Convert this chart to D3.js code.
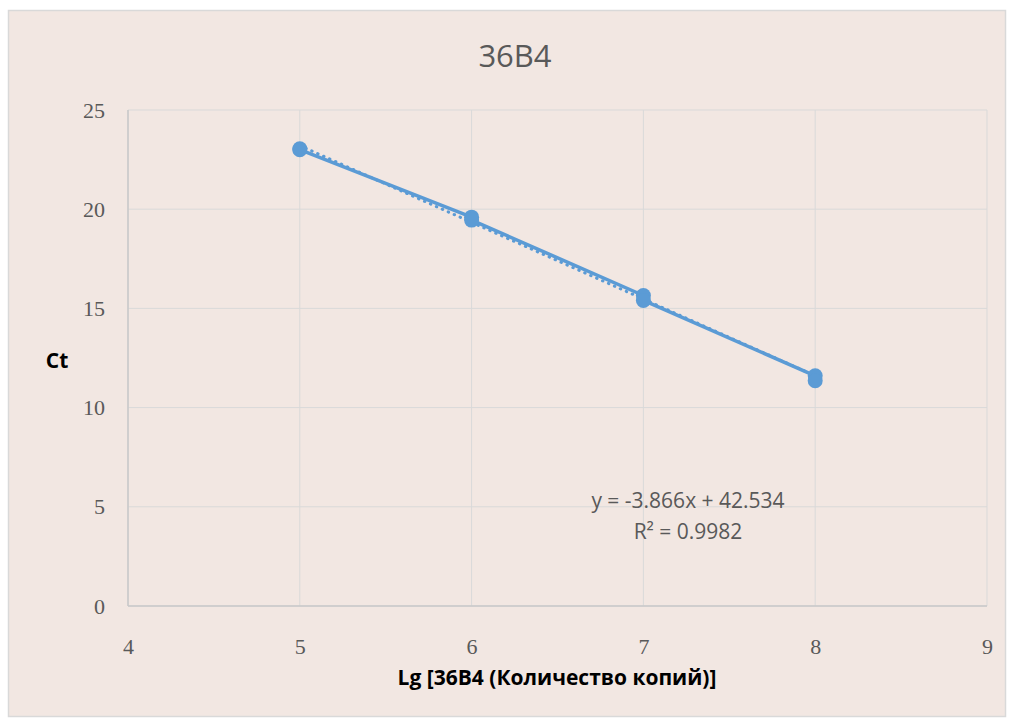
<!DOCTYPE html>
<html>
<head>
<meta charset="utf-8">
<script src="https://cdn.jsdelivr.net/npm/d3@7"></script>
<style>
  body { margin: 0; background: #ffffff; }
  svg { display: block; }
</style>
</head>
<body>
<div id="chart"></div>
<script>
const w = 1011;
const h = 718;

// data
const lgCopies = [5, 5, 6, 6, 7, 7, 8, 8];
const ctValues = [23.05, 23.0, 19.6, 19.45, 15.65, 15.4, 11.6, 11.35];
const xTicks = [4, 5, 6, 7, 8, 9];
const yTicks = [0, 5, 10, 15, 20, 25];
const trendSlope = -3.866;
const trendIntercept = 42.534;
const rSquared = 0.9982;

const chartTitle = "36B4";
const xTitle = "Lg [36B4 (Количество копий)]";
const yTitle = "Ct";

const margin = { left: 128, top: 110, right: 1011 - 987, bottom: 718 - 606 };
const blue = "#5b9bd5";

const svg = d3.select("#chart")
    .append("svg")
    .attr("width", w)
    .attr("height", h);

// chart frame
svg.append("rect")
    .attr("x", 8.5)
    .attr("y", 10.5)
    .attr("width", 997)
    .attr("height", 706)
    .attr("fill", "#f2e7e2")
    .attr("stroke", "#d9d9d9")
    .attr("stroke-width", 1.5);

const x = d3.scaleLinear().domain([4, 9]).range([margin.left, w - margin.right]);
const y = d3.scaleLinear().domain([0, 25]).range([h - margin.bottom, margin.top]);

// grid
svg.append("g")
    .selectAll("line.vg")
    .data(xTicks)
    .enter()
    .append("line")
    .attr("x1", d => x(d)).attr("x2", d => x(d))
    .attr("y1", y(0)).attr("y2", y(25))
    .attr("stroke", "#d9d9d9")
    .attr("stroke-width", 1);

svg.append("g")
    .selectAll("line.hg")
    .data(yTicks)
    .enter()
    .append("line")
    .attr("x1", x(4)).attr("x2", x(9))
    .attr("y1", d => y(d)).attr("y2", d => y(d))
    .attr("stroke", "#d9d9d9")
    .attr("stroke-width", 1);

// axis lines
svg.append("line")
    .attr("x1", x(4)).attr("x2", x(9))
    .attr("y1", y(0)).attr("y2", y(0))
    .attr("stroke", "#c8c8c8").attr("stroke-width", 1.5);
svg.append("line")
    .attr("x1", x(4)).attr("x2", x(4))
    .attr("y1", y(0)).attr("y2", y(25))
    .attr("stroke", "#c8c8c8").attr("stroke-width", 1.5);

// axes labels via d3 axis
const xAxis = svg.append("g")
    .attr("transform", `translate(0,${y(0)})`)
    .call(d3.axisBottom(x).tickValues(xTicks).tickSize(0).tickPadding(32).tickFormat(d3.format("d")));
const yAxis = svg.append("g")
    .attr("transform", `translate(${x(4)},0)`)
    .call(d3.axisLeft(y).tickValues(yTicks).tickSize(0).tickPadding(23).tickFormat(d3.format("d")));

[xAxis, yAxis].forEach(g => {
    g.select(".domain").remove();
    g.selectAll("text")
        .attr("font-family", "'Liberation Serif', serif")
        .attr("font-size", "22px")
        .attr("fill", "#595959");
});

// title
svg.append("text")
    .attr("x", 515)
    .attr("y", 67)
    .attr("text-anchor", "middle")
    .attr("font-family", "'Open Sans', sans-serif")
    .attr("font-size", "31px")
    .attr("fill", "#595959")
    .text(chartTitle);

// axis titles
svg.append("text")
    .attr("x", 557)
    .attr("y", 685)
    .attr("text-anchor", "middle")
    .attr("font-family", "'Open Sans', sans-serif")
    .attr("font-weight", "bold")
    .attr("font-size", "21px")
    .attr("fill", "#000")
    .text(xTitle);

svg.append("text")
    .attr("x", 57)
    .attr("y", 368)
    .attr("text-anchor", "middle")
    .attr("font-family", "'Open Sans', sans-serif")
    .attr("font-weight", "bold")
    .attr("font-size", "21px")
    .attr("fill", "#000")
    .text(yTitle);

// trendline (dotted)
const xMin = d3.min(lgCopies);
const xMax = d3.max(lgCopies);
svg.append("line")
    .attr("x1", x(xMin)).attr("y1", y(trendSlope * xMin + trendIntercept))
    .attr("x2", x(xMax)).attr("y2", y(trendSlope * xMax + trendIntercept))
    .attr("stroke", blue)
    .attr("stroke-width", 3)
    .attr("stroke-linecap", "round")
    .attr("stroke-dasharray", "0.5,6");

// series line
const pts = lgCopies.map((d, i) => [d, ctValues[i]]);
svg.append("path")
    .datum(pts)
    .attr("d", d3.line().x(d => x(d[0])).y(d => y(d[1])))
    .attr("fill", "none")
    .attr("stroke", blue)
    .attr("stroke-width", 3.5)
    .attr("stroke-linejoin", "round");

svg.selectAll("circle")
    .data(pts)
    .enter()
    .append("circle")
    .attr("cx", d => x(d[0]))
    .attr("cy", d => y(d[1]))
    .attr("r", 7.5)
    .attr("fill", blue);

// equation
const eq = svg.append("text")
    .attr("font-family", "'Open Sans', sans-serif")
    .attr("font-size", "21px")
    .attr("fill", "#595959")
    .attr("text-anchor", "middle");
eq.append("tspan").attr("x", 688).attr("y", 508)
    .text(`y = ${trendSlope}x + ${trendIntercept}`);
eq.append("tspan").attr("x", 688).attr("y", 539)
    .text(`R² = ${rSquared}`);
</script>
</body>
</html>
